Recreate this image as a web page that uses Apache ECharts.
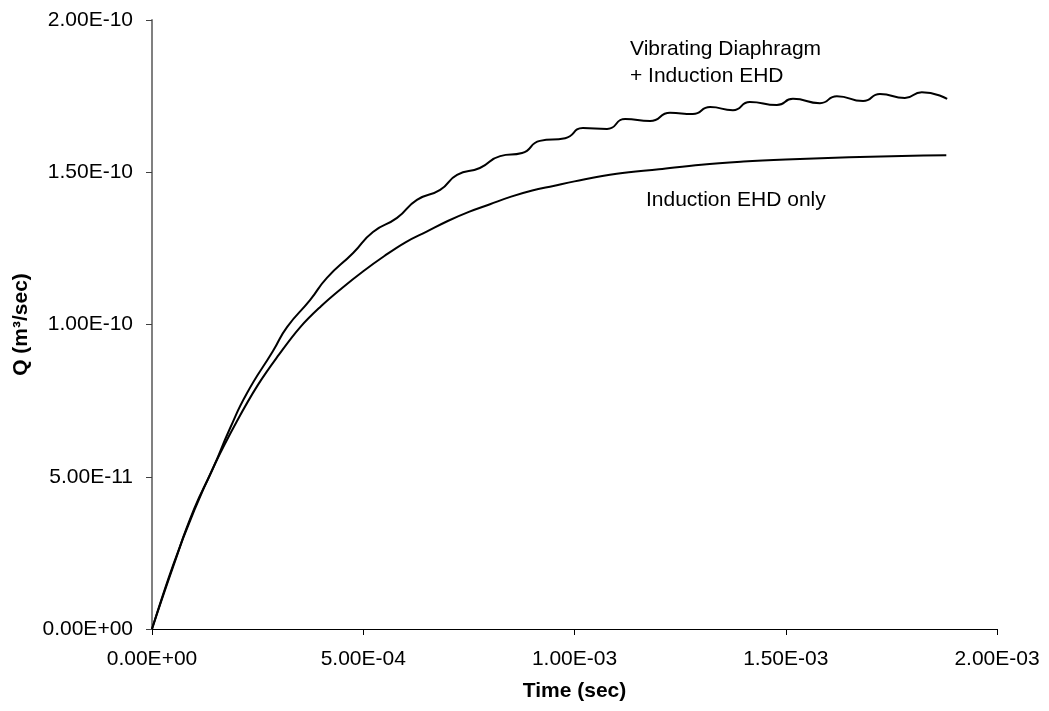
<!DOCTYPE html>
<html>
<head>
<meta charset="utf-8">
<script src="https://cdn.jsdelivr.net/npm/echarts@6/dist/echarts.min.js"></script>
<style>
html,body{margin:0;padding:0;background:#fff;}
#c{width:1049px;height:711px;}
</style>
</head>
<body>
<div id="c"></div>
<script>
// Time in units of 1e-4 s, Q in units of 1e-10 m^3/s
var timeSmooth = [0, 0.5, 1.0, 1.5, 2.0, 2.5, 3.0, 3.5, 4.0, 4.5, 5.0, 5.5, 6.0, 6.5, 7.0, 7.5, 8.0, 8.5, 9.0, 9.5, 10, 11, 12, 13, 14, 15, 16, 17, 18, 18.8];
var qSmooth    = [0, 0.21, 0.39, 0.545, 0.68, 0.80, 0.90, 0.99, 1.06, 1.12, 1.175, 1.225, 1.27, 1.305, 1.34, 1.37, 1.395, 1.42, 1.44, 1.455, 1.47, 1.495, 1.51, 1.525, 1.535, 1.542, 1.547, 1.551, 1.554, 1.556];

var timeVib = [0, 0.5, 1.0, 1.42, 1.85, 2.25, 2.86, 3.2, 3.74, 4.14, 4.76, 5.23, 5.8, 6.27, 6.82, 7.22, 7.76, 8.24, 8.76, 9.18, 9.78, 10.2, 10.77, 11.2, 11.79, 12.26, 12.8, 13.21, 13.75, 14.15, 14.79, 15.17, 15.81, 16.21, 16.83, 17.23, 17.82, 18.22, 18.82];
var qVib    = [0, 0.205, 0.395, 0.52, 0.66, 0.775, 0.912, 0.992, 1.08, 1.153, 1.235, 1.304, 1.35, 1.409, 1.442, 1.491, 1.514, 1.553, 1.563, 1.603, 1.612, 1.645, 1.642, 1.675, 1.668, 1.695, 1.691, 1.714, 1.704, 1.731, 1.721, 1.741, 1.727, 1.75, 1.734, 1.757, 1.744, 1.763, 1.741];

var xScale = 1e-4, yScale = 1e-10;
var xMin = 0, xMax = 20, xStep = 5;
var yMin = 0, yMax = 2, yStep = 0.5;

var labelVib1 = 'Vibrating Diaphragm';
var labelVib2 = '+ Induction EHD';
var labelSmooth = 'Induction EHD only';

function fmtE(x) {
  if (Math.abs(x) < 1e-30) return '0.00E+00';
  var s = x.toExponential(2).split('e');
  var e = parseInt(s[1], 10);
  var sign = e < 0 ? '-' : '+';
  var a = Math.abs(e);
  return s[0] + 'E' + sign + (a < 10 ? '0' + a : '' + a);
}

function pairs(xs, ys) {
  return xs.map(function (x, i) { return [x, ys[i]]; });
}

var font = 'Liberation Sans, Arial, sans-serif';
var chart = echarts.init(document.getElementById('c'), null, {renderer: 'canvas'});
chart.setOption({
  animation: false,
  backgroundColor: '#fff',
  grid: {left: 152, right: 52, top: 20, bottom: 82, containLabel: false},
  xAxis: {
    type: 'value', min: xMin, max: xMax, interval: xStep,
    name: 'Time (sec)', nameLocation: 'middle', nameGap: 52,
    nameTextStyle: {fontFamily: font, fontSize: 21, fontWeight: 'bold', color: '#000'},
    axisLine: {show: true, onZero: false, lineStyle: {color: '#000', width: 1}},
    axisTick: {show: true, inside: false, length: 6, lineStyle: {color: '#000'}},
    axisLabel: {margin: 20, fontFamily: font, fontSize: 21, color: '#000',
      formatter: function (v) { return fmtE(v * xScale); }},
    splitLine: {show: false}
  },
  yAxis: {
    type: 'value', min: yMin, max: yMax, interval: yStep,
    name: 'Q (m³/sec)', nameLocation: 'middle', nameGap: 118, nameRotate: 90,
    nameTextStyle: {fontFamily: font, fontSize: 21, fontWeight: 'bold', color: '#000'},
    axisLine: {show: true, onZero: false, lineStyle: {color: '#808080', width: 2}},
    axisTick: {show: true, inside: false, length: 6, lineStyle: {color: '#404040'}},
    axisLabel: {margin: 19, fontFamily: font, fontSize: 21, color: '#000',
      formatter: function (v) { return fmtE(v * yScale); }},
    splitLine: {show: false}
  },
  series: [
    {type: 'line', data: pairs(timeSmooth, qSmooth), smooth: 0.4, showSymbol: false,
     lineStyle: {color: '#000', width: 2}},
    {type: 'line', data: pairs(timeVib, qVib), smooth: 0.55, showSymbol: false,
     lineStyle: {color: '#000', width: 2}}
  ],
  graphic: [
    {type: 'text', left: 630, top: 36, style: {text: labelVib1 + '\n' + labelVib2, font: '21px ' + font, fill: '#000', lineHeight: 27}},
    {type: 'text', left: 646, top: 190, style: {text: labelSmooth, font: '21px ' + font, fill: '#000'}}
  ]
});
</script>
</body>
</html>
